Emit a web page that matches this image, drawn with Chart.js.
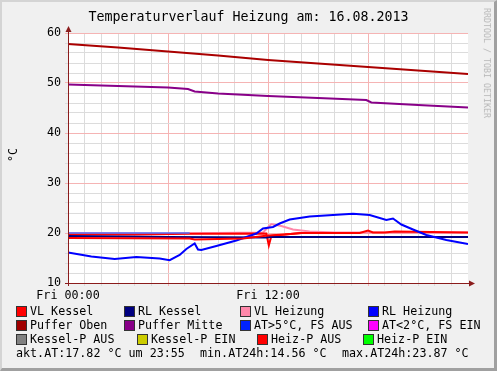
<!DOCTYPE html>
<html>
<head>
<meta charset="utf-8">
<script src="https://cdn.jsdelivr.net/npm/chart.js@4"></script>
<style>
  body { margin: 0; background: #f0f0f0; }
  #wrap {
    position: relative; width: 497px; height: 371px; background: #f0f0f0;
    box-sizing: border-box; overflow: hidden;
    border-top: 2px solid #d4d4d4; border-left: 2px solid #d4d4d4;
    border-right: 3px solid #a0a0a0; border-bottom: 3px solid #a0a0a0;
  }
  canvas { position: absolute; left: -2px; top: -2px; }
  .t { position: absolute; font-family: "DejaVu Sans Mono", monospace; font-size: 11.7px; color: #000; white-space: pre; line-height: 14px; }
  .sq { position: absolute; width: 9px; height: 9px; border: 1px solid #333; }
</style>
</head>
<body>
<div id="wrap">
  <canvas id="chart" width="497" height="371"></canvas>
  <div id="texts"></div>
</div>
<script>
// time axis in hours (0 = Fri 00:00)
const xTicks = { 0: "Fri 00:00", 12: "Fri 12:00" };

const puffOben_t = [0, 3, 6, 9, 12, 15, 18, 21, 24];
const puffOben_v = [57.8, 57.1, 56.3, 55.5, 54.6, 53.9, 53.2, 52.5, 51.8];

const puffMitte_t = [0, 3, 6, 7.2, 7.6, 9, 12, 15, 17.9, 18.2, 21, 24];
const puffMitte_v = [49.7, 49.4, 49.1, 48.8, 48.3, 47.9, 47.4, 47.0, 46.6, 46.1, 45.6, 45.1];

const rlHeiz_t = [0, 1.4, 2.8, 4.1, 5.5, 6.1, 6.7, 7.1, 7.6, 7.8, 8.0, 8.9, 10.1, 11.3, 11.7, 12.3, 12.7, 13.3, 14.5, 15.9, 17.1, 18.1, 19.1, 19.5, 20.0, 20.7, 21.5, 22.7, 24];
const rlHeiz_v = [16.1, 15.3, 14.8, 15.2, 14.9, 14.56, 15.6, 16.8, 17.9, 16.7, 16.6, 17.4, 18.5, 19.9, 20.9, 21.2, 21.9, 22.7, 23.3, 23.6, 23.87, 23.6, 22.6, 22.9, 21.7, 20.7, 19.6, 18.6, 17.82];

const vlKessel_t = [0, 4, 7.3, 9, 11.9, 12.05, 12.2, 13, 14, 17.5, 18, 18.3, 19, 19.6, 24];
const vlKessel_v = [19.7, 19.7, 19.85, 19.85, 19.9, 17.5, 19.4, 19.7, 20.0, 20.0, 20.5, 20.1, 20.1, 20.3, 20.1];

const heizPAus_t = [0, 7.3, 7.6, 9, 10.5, 11.5, 12, 13, 14];
const heizPAus_v = [19.0, 18.9, 18.7, 18.8, 18.9, 19.3, 19.5, 19.7, 20.0];

const rlKessel_t = [0, 6, 11.9, 12.1, 18, 24];
const rlKessel_v = [19.4, 19.2, 19.1, 19.2, 19.2, 19.2];

const vlHeiz_t = [0, 6, 11.7, 12.2, 12.8, 13.5, 14.5, 16, 20, 24];
const vlHeiz_v = [20.0, 19.9, 20.1, 21.8, 21.4, 20.7, 20.3, 20.1, 20.1, 20.1];

const atStatus_t = [0, 7.3];
const atStatus_v = [20.0, 20.0];

const legendRows = [
  [["VL Kessel", "#ff0000", 16], ["RL Kessel", "#000080", 124], ["VL Heizung", "#ff88aa", 240], ["RL Heizung", "#0000ff", 368]],
  [["Puffer Oben", "#a00000", 16], ["Puffer Mitte", "#880088", 124], ["AT>5°C, FS AUS", "#0022ff", 240], ["AT<2°C, FS EIN", "#ff00ff", 368]],
  [["Kessel-P AUS", "#808080", 16], ["Kessel-P EIN", "#cccc00", 137], ["Heiz-P AUS", "#ff0000", 257], ["Heiz-P EIN", "#00ff00", 363]]
];

function pts(t, v) { return t.map((x, i) => ({ x: x, y: v[i] })); }

function line(label, t, v, color, order, width) {
  return { label: label, data: pts(t, v), borderColor: color, borderWidth: width || 2, pointRadius: 0, tension: 0, fill: false, order: order };
}

// texts
const texts = document.getElementById("texts");
function addText(txt, left, top, extra) {
  const d = document.createElement("div");
  d.className = "t";
  d.textContent = txt;
  d.style.left = (left - 2) + "px";
  d.style.top = (top - 2) + "px";
  if (extra) Object.assign(d.style, extra);
  texts.appendChild(d);
  return d;
}
addText("Temperaturverlauf Heizung am: 16.08.2013", 0, 9, { width: "497px", textAlign: "center", fontSize: "13.3px", lineHeight: "16px" });
addText("°C", 6, 148, { transform: "rotate(-90deg)", fontSize: "11.7px" });
addText("RRDTOOL / TOBI OETIKER", 432, 58, { transform: "rotate(90deg)", fontSize: "8.3px", color: "#b8b8b8", lineHeight: "10px" });

const rowY = [304, 318, 332];
legendRows.forEach((row, r) => {
  row.forEach(item => {
    const sq = document.createElement("div");
    sq.className = "sq";
    sq.style.background = item[1];
    sq.style.left = (item[2] - 2) + "px";
    sq.style.top = (rowY[r] + 2 - 2) + "px";
    texts.appendChild(sq);
    addText(item[0], item[2] + 14, rowY[r]);
  });
});
addText("akt.AT:17.82 °C um 23:55", 16, 346);
addText("min.AT24h:14.56 °C", 200, 346);
addText("max.AT24h:23.87 °C", 342, 346);

const axisColor = "#8b1c1c";
const majorGrid = "#f5b4b4";
const minorGrid = "#dcdcdc";

const rrdFrame = {
  id: "rrdFrame",
  beforeDraw(chart) {
    const a = chart.chartArea, c = chart.ctx;
    c.save();
    c.fillStyle = "#f0f0f0";
    c.fillRect(0, 0, chart.width, chart.height);
    c.fillStyle = "#ffffff";
    c.fillRect(a.left, a.top, a.right - a.left, a.bottom - a.top);
    c.restore();
  },
  afterDatasetsDraw(chart) {
    const a = chart.chartArea, c = chart.ctx;
    c.save();
    c.strokeStyle = axisColor;
    c.fillStyle = axisColor;
    c.lineWidth = 1;
    c.beginPath();
    c.moveTo(a.left + 0.5, a.bottom + 3);
    c.lineTo(a.left + 0.5, a.top - 4);
    c.moveTo(a.left - 3, a.bottom + 0.5);
    c.lineTo(a.right + 4, a.bottom + 0.5);
    c.stroke();
    c.beginPath();
    c.moveTo(a.left + 0.5, a.top - 7);
    c.lineTo(a.left - 2.5, a.top - 1);
    c.lineTo(a.left + 3.5, a.top - 1);
    c.closePath();
    c.fill();
    c.beginPath();
    c.moveTo(a.right + 7, a.bottom + 0.5);
    c.lineTo(a.right + 1, a.bottom - 2.5);
    c.lineTo(a.right + 1, a.bottom + 3.5);
    c.closePath();
    c.fill();
    c.restore();
  }
};

new Chart(document.getElementById("chart"), {
  type: "line",
  data: {
    datasets: [
      line("VL Heizung", vlHeiz_t, vlHeiz_v, "#ff88aa", 9),
      line("VL Kessel", vlKessel_t, vlKessel_v, "#ff0000", 8),
      line("RL Kessel", rlKessel_t, rlKessel_v, "#000080", 7),
      line("RL Heizung", rlHeiz_t, rlHeiz_v, "#0000ff", 6),
      line("Puffer Oben", puffOben_t, puffOben_v, "#aa0000", 5),
      line("Puffer Mitte", puffMitte_t, puffMitte_v, "#880088", 4),
      line("Heiz-P AUS", heizPAus_t, heizPAus_v, "#ff0000", 2),
      line("AT>5°C, FS AUS", atStatus_t, atStatus_v, "#5070ff", 1, 1.5)
    ]
  },
  options: {
    responsive: false,
    animation: false,
    devicePixelRatio: 1,
    layout: { padding: { top: 33, right: 29, left: 0, bottom: 0 } },
    plugins: { legend: { display: false }, tooltip: { enabled: false }, title: { display: false } },
    scales: {
      x: {
        type: "linear", min: 0, max: 24,
        border: { display: false },
        grid: {
          tickLength: 3,
          color: ctx => ctx.tick.value === 24 ? "rgba(0,0,0,0)" : (ctx.tick.value % 6 === 0 ? majorGrid : minorGrid)
        },
        ticks: {
          stepSize: 1, autoSkip: false, maxRotation: 0, padding: 3,
          color: "#000",
          font: { family: "DejaVu Sans Mono", size: 11.7 },
          callback: v => xTicks[v] || ""
        },
        afterFit: s => { s.height = 88; }
      },
      y: {
        min: 10, max: 60,
        border: { display: false },
        grid: {
          tickLength: 3,
          color: ctx => ctx.tick.value % 10 === 0 ? majorGrid : minorGrid
        },
        ticks: {
          stepSize: 2, autoSkip: false, padding: 4,
          color: "#000",
          font: { family: "DejaVu Sans Mono", size: 11.7 },
          callback: v => v % 10 === 0 ? String(v) : ""
        },
        afterFit: s => { s.width = 68; }
      }
    }
  },
  plugins: [rrdFrame]
});
</script>
</body>
</html>
